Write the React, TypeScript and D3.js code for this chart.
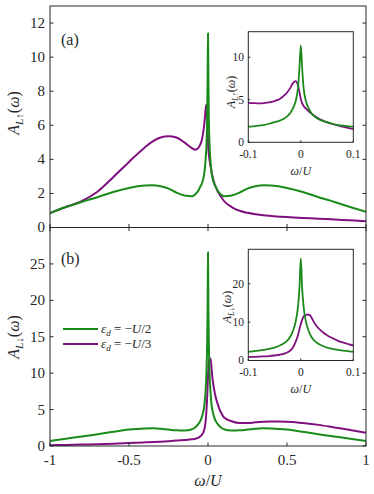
import React from 'react';
import * as d3 from 'd3';

// frequency grid (omega / U), dense near the Fermi level
const omega = [
  -1, -0.9, -0.8, -0.7, -0.6, -0.5, -0.4, -0.35, -0.3, -0.25,
  -0.2, -0.15, -0.1, -0.09, -0.08, -0.07, -0.06, -0.05, -0.04, -0.03,
  -0.025, -0.02, -0.015, -0.01, -0.005, -0.0025,
  0,
  0.0025, 0.005, 0.01, 0.015, 0.02, 0.025, 0.03, 0.04, 0.05, 0.06,
  0.07, 0.08, 0.09, 0.1, 0.15, 0.2, 0.25, 0.3, 0.35, 0.4,
  0.5, 0.6, 0.7, 0.8, 0.9, 1
];

// spin up, eps_d = -U/2
const upHalf = [
  0.85, 1.2, 1.5, 1.78, 2.08, 2.32, 2.46, 2.48, 2.42, 2.28,
  2.05, 1.88, 1.84, 1.88, 1.95, 2.05, 2.18, 2.38, 2.55, 2.85,
  3.1, 3.45, 4.0, 4.8, 6.6, 8.8,
  11.4,
  8.8, 6.6, 4.8, 4.0, 3.45, 3.1, 2.85, 2.55, 2.38, 2.18,
  2.05, 1.95, 1.88, 1.84, 1.88, 2.05, 2.28, 2.42, 2.48, 2.46,
  2.32, 2.08, 1.78, 1.5, 1.2, 0.92
];

// spin up, eps_d = -U/3
const upThird = [
  0.85, 1.2, 1.55, 2.1, 2.95, 3.85, 4.7, 5.05, 5.28, 5.36,
  5.28, 5.0, 4.65, 4.6, 4.57, 4.6, 4.68, 4.85, 5.1, 5.6,
  5.95, 6.4, 6.95, 7.2, 6.6, 5.9,
  5.1,
  4.6, 4.3, 3.95, 3.65, 3.4, 3.15, 2.95, 2.6, 2.35, 2.15,
  1.98, 1.84, 1.7, 1.57, 1.2, 0.98, 0.86, 0.78, 0.72, 0.68,
  0.61, 0.56, 0.52, 0.47, 0.42, 0.37
];

// spin down, eps_d = -U/2
const downHalf = [
  0.7, 1.0, 1.3, 1.6, 1.95, 2.25, 2.4, 2.43, 2.38, 2.25,
  2.15, 2.12, 2.3, 2.42, 2.58, 2.78, 3.05, 3.38, 3.9, 4.7,
  5.3, 6.2, 7.7, 10, 14.5, 19,
  26.6,
  19, 14.5, 10, 7.7, 6.2, 5.3, 4.7, 3.9, 3.38, 3.05,
  2.78, 2.58, 2.42, 2.3, 2.12, 2.15, 2.25, 2.38, 2.43, 2.4,
  2.25, 1.95, 1.6, 1.3, 1.0, 0.68
];

// spin down, eps_d = -U/3
const downThird = [
  0.1, 0.15, 0.2, 0.25, 0.32, 0.4, 0.5, 0.55, 0.6, 0.66,
  0.74, 0.82, 0.92, 0.95, 1.0, 1.07, 1.15, 1.3, 1.5, 1.85,
  2.15, 2.6, 3.4, 4.8, 6.8, 8.2,
  9.5,
  10.6, 11.4, 11.9, 12.0, 11.3, 10.0, 9.0, 7.6, 6.6, 5.85,
  5.2, 4.7, 4.3, 3.95, 3.4, 3.15, 3.15, 3.25, 3.32, 3.35,
  3.33, 3.15, 2.9, 2.55, 2.2, 1.83
];

const xTicksMain = [-1, -0.5, 0, 0.5, 1];
const xTickLabelsMain = ['-1', '-0.5', '0', '0.5', '1'];
const yTicksUp = [0, 2, 4, 6, 8, 10, 12];
const yTicksDown = [0, 5, 10, 15, 20, 25];
const xTicksInset = [-0.1, 0, 0.1];
const xTickLabelsInset = ['-0.1', '0', '0.1'];
const yTicksInsetUp = [0, 5, 10];
const yTicksInsetDown = [0, 10, 20];

const GREEN = '#1a8a1a';
const PURPLE = '#80107f';
const AXIS = '#262626';
const FONT = "'Liberation Serif', 'Times New Roman', 'DejaVu Serif', serif";

type Panel = {
  id: string;
  x0: number; x1: number; y0: number; y1: number;
  xDomain: [number, number];
  yDomain: [number, number];
  xTicks: number[];
  xLabels?: string[];
  yTicks: number[];
  series: { values: number[]; color: string }[];
  tick: number;
  lw: number;
  fs: number;
  tickRight?: boolean;
  tickTop?: boolean;
  labelX?: number;
  labelGap?: number;
};

function drawPanel(p: Panel) {
  const x = d3.scaleLinear().domain(p.xDomain).range([p.x0, p.x1]);
  const y = d3.scaleLinear().domain(p.yDomain).range([p.y1, p.y0]);
  const line = d3.line<number>()
    .x((_, i) => x(omega[i]))
    .y(d => y(d))
    .curve(d3.curveMonotoneX);
  const lx = p.labelX ?? p.x0 - 5;
  const gap = p.labelGap ?? p.fs * 1.25;
  return (
    <g key={p.id}>
      <defs>
        <clipPath id={p.id}>
          <rect x={p.x0} y={p.y0} width={p.x1 - p.x0} height={p.y1 - p.y0} />
        </clipPath>
      </defs>
      <rect x={p.x0} y={p.y0} width={p.x1 - p.x0} height={p.y1 - p.y0} fill="white" />
      <g clipPath={`url(#${p.id})`}>
        {p.series.map((s, i) => (
          <path key={i} d={line(s.values) || ''} fill="none" stroke={s.color}
            strokeWidth={p.lw} strokeLinejoin="round" />
        ))}
      </g>
      <g stroke={AXIS} strokeWidth={1}>
        {p.yTicks.map(t => (
          <g key={'y' + t}>
            <line x1={p.x0} x2={p.x0 + p.tick} y1={y(t)} y2={y(t)} />
            {p.tickRight && <line x1={p.x1} x2={p.x1 - p.tick} y1={y(t)} y2={y(t)} />}
          </g>
        ))}
        {p.xTicks.map(t => (
          <g key={'x' + t}>
            <line x1={x(t)} x2={x(t)} y1={p.y1} y2={p.y1 - p.tick} />
            {p.tickTop && <line x1={x(t)} x2={x(t)} y1={p.y0} y2={p.y0 + p.tick} />}
          </g>
        ))}
        <rect x={p.x0} y={p.y0} width={p.x1 - p.x0} height={p.y1 - p.y0} fill="none" />
      </g>
      <g fontSize={p.fs} fill={AXIS} style={{ fontFamily: FONT }}>
        {p.yTicks.map(t => (
          <text key={'yl' + t} x={lx} y={y(t)} dy="0.33em" textAnchor="end">{t}</text>
        ))}
        {p.xLabels && p.xTicks.map((t, i) => (
          <text key={'xl' + t} x={x(t)} y={p.y1 + gap} textAnchor="middle">{p.xLabels![i]}</text>
        ))}
      </g>
    </g>
  );
}

function YLabel({ x, y, fs, arrow }: { x: number; y: number; fs: number; arrow: string }) {
  return (
    <text transform={`translate(${x},${y}) rotate(-90)`} textAnchor="middle"
      fontSize={fs} fill={AXIS} style={{ fontFamily: FONT }}>
      <tspan fontStyle="italic">A</tspan>
      <tspan fontSize={fs * 0.7} dy={fs * 0.22} fontStyle="italic">L</tspan>
      <tspan fontSize={fs * 0.7}>{arrow}</tspan>
      <tspan dy={-fs * 0.22}>(</tspan>
      <tspan fontStyle="italic">ω</tspan>
      <tspan>)</tspan>
    </text>
  );
}

function XLabel({ x, y, fs }: { x: number; y: number; fs: number }) {
  return (
    <text x={x} y={y} textAnchor="middle" fontSize={fs} fill={AXIS} style={{ fontFamily: FONT }}>
      <tspan fontStyle="italic">ω</tspan>/<tspan fontStyle="italic">U</tspan>
    </text>
  );
}

export default function App() {
  const mainX: [number, number] = [-1, 1];
  const insX: [number, number] = [-0.1, 0.1];
  const top = drawPanel({
    id: 'cTop', x0: 50, x1: 366, y0: 6, y1: 227.5, xDomain: mainX, yDomain: [0, 13],
    xTicks: xTicksMain, yTicks: yTicksUp, tick: 3.5, lw: 2, fs: 15, tickRight: true,
    series: [{ values: upThird, color: PURPLE }, { values: upHalf, color: GREEN }]
  });
  const bottom = drawPanel({
    id: 'cBot', x0: 50, x1: 366, y0: 227.5, y1: 446, xDomain: mainX, yDomain: [0, 30],
    xTicks: xTicksMain, xLabels: xTickLabelsMain, yTicks: yTicksDown, tick: 3.5, lw: 2, fs: 15,
    tickRight: true, tickTop: true, labelGap: 19,
    series: [{ values: downThird, color: PURPLE }, { values: downHalf, color: GREEN }]
  });
  const insTop = drawPanel({
    id: 'cInsTop', x0: 248.3, x1: 353.3, y0: 31.7, y1: 142.3, xDomain: insX, yDomain: [0, 13],
    xTicks: xTicksInset, xLabels: xTickLabelsInset, yTicks: yTicksInsetUp, tick: 2, lw: 1.8, fs: 11.5,
    labelX: 244, labelGap: 15.5,
    series: [{ values: upThird, color: PURPLE }, { values: upHalf, color: GREEN }]
  });
  const insBot = drawPanel({
    id: 'cInsBot', x0: 248.3, x1: 353.3, y0: 249.3, y1: 360.5, xDomain: insX, yDomain: [0, 29],
    xTicks: xTicksInset, xLabels: xTickLabelsInset, yTicks: yTicksInsetDown, tick: 2, lw: 1.8, fs: 11.5,
    labelX: 244, labelGap: 15.5,
    series: [{ values: downThird, color: PURPLE }, { values: downHalf, color: GREEN }]
  });

  const legend = [
    { color: GREEN, frac: '2' },
    { color: PURPLE, frac: '3' }
  ];

  return (
    <svg width={374} height={494} style={{ position: 'absolute', left: 0, top: 0, background: 'white' }}>
      {top}
      {bottom}
      {insTop}
      {insBot}
      <YLabel x={19} y={113} fs={16} arrow="↑" />
      <YLabel x={19} y={337} fs={16} arrow="↓" />
      <YLabel x={235} y={92} fs={12} arrow="↑" />
      <YLabel x={231} y={307} fs={12} arrow="↓" />
      <XLabel x={208} y={486} fs={16} />
      <XLabel x={300.8} y={175} fs={12} />
      <XLabel x={300.8} y={393} fs={12} />
      <text x={61} y={45} fontSize={16} fill={AXIS} style={{ fontFamily: FONT }}>(a)</text>
      <text x={61} y={264} fontSize={16} fill={AXIS} style={{ fontFamily: FONT }}>(b)</text>
      {legend.map((l, i) => (
        <g key={i}>
          <line x1={63} x2={98} y1={329 + i * 15} y2={329 + i * 15} stroke={l.color} strokeWidth={2} />
          <text x={101} y={333 + i * 15} fontSize={13} fill={AXIS} style={{ fontFamily: FONT }}>
            <tspan fontStyle="italic">ε</tspan>
            <tspan fontSize={9} dy={3} fontStyle="italic">d</tspan>
            <tspan dy={-3}> = −</tspan>
            <tspan fontStyle="italic">U</tspan>
            <tspan>/{l.frac}</tspan>
          </text>
        </g>
      ))}
    </svg>
  );
}
